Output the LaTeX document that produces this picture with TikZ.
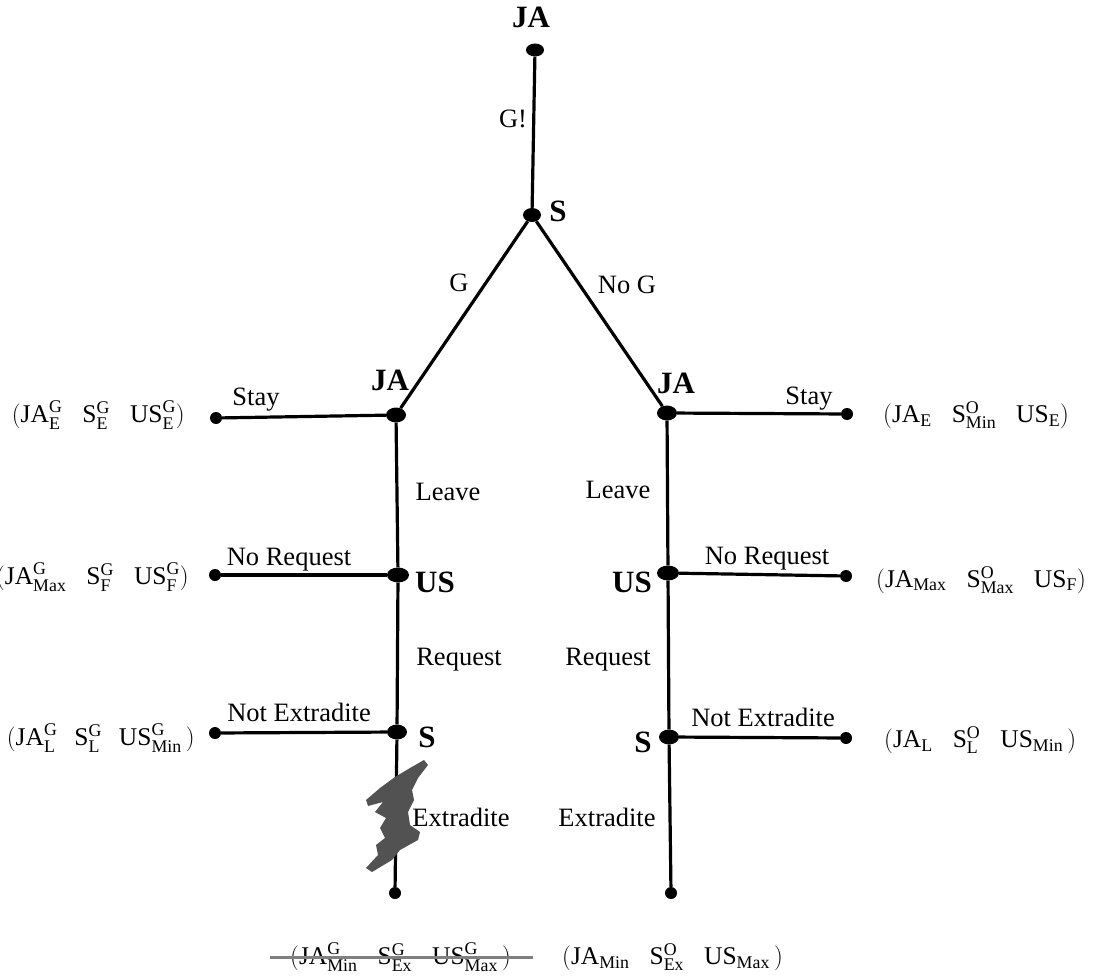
\documentclass[tikz,border=0pt]{standalone}
\usepackage{fontspec}
\setmainfont{Liberation Serif}
\usetikzlibrary{shapes.geometric}
\tikzset{
  big/.style={ellipse,fill=black,inner sep=0pt,minimum width=20pt,minimum height=15pt},
  leaf/.style={circle,fill=black,inner sep=0pt,minimum size=12pt},
  edge/.style={line width=3.2pt},
  lab/.style={font=\fontsize{26.5}{30}\selectfont,inner sep=0pt},
  player/.style={font=\fontsize{31}{34}\selectfont\bfseries,inner sep=0pt},
  pay/.style={font=\fontsize{25.5}{30}\selectfont,inner sep=0pt}
}
\newcommand{\rmx}[1]{\mathrm{#1}}
\newcommand{\gp}{\hspace{20pt}}
\begin{document}
\begin{tikzpicture}[x=1pt,y=-1pt]
\useasboundingbox (0,0) rectangle (1094,976);
% decision nodes
\node[big,minimum width=18pt,minimum height=13pt] (ja) at (535,50) {};
\node[big,minimum width=18pt,minimum height=14pt] (s) at (532,215) {};
\node[big] (jal) at (396,415) {};
\node[big] (jar) at (667,413) {};
\node[big,minimum width=22pt] (usl) at (398,575) {};
\node[big,minimum width=22pt] (usr) at (668,573) {};
\node[big] (sl) at (397,732) {};
\node[big] (sr) at (669,737) {};
% terminal nodes
\node[leaf] (stl) at (216,418) {};
\node[leaf] (str) at (847,414) {};
\node[leaf] (nrl) at (215,575) {};
\node[leaf] (nrr) at (846,576) {};
\node[leaf] (nel) at (215,733) {};
\node[leaf] (ner) at (846,738) {};
\node[leaf] (exl) at (395,893) {};
\node[leaf] (exr) at (671,893) {};
% edges
\draw[edge] (ja) -- (s);
\draw[edge] (s) -- (jal);
\draw[edge] (s) -- (jar);
\draw[edge] (jal) -- (stl);
\draw[edge] (jar) -- (str);
\draw[edge] (jal) -- (usl);
\draw[edge] (jar) -- (usr);
\draw[edge] (usl) -- (nrl);
\draw[edge] (usr) -- (nrr);
\draw[edge] (usl) -- (sl);
\draw[edge] (usr) -- (sr);
\draw[edge] (sl) -- (nel);
\draw[edge] (sr) -- (ner);
\draw[edge] (sl) -- (exl);
\draw[edge] (sr) -- (exr);
% player labels
\node[player] (tja) at (531,17) {JA};
\node[player] (ts) at (558,211) {S};
\node[player] (tjal) at (390,380) {JA};
\node[player] (tjar) at (676,383) {JA};
\node[player] (tusl) at (435,582) {US};
\node[player] (tusr) at (632,582) {US};
\node[player] (tsl) at (427,737) {S};
\node[player] (tsr) at (643,742) {S};
% action labels
\node[lab] (lg1) at (513,119) {G!};
\node[lab] (lg) at (459,283) {G};
\node[lab] (lng) at (627,285) {No G};
\node[lab] (lstl) at (256,400) {Stay};
\node[lab] (lstr) at (809,399) {Stay};
\node[lab] (llvl) at (448,492) {Leave};
\node[lab] (llvr) at (618,490) {Leave};
\node[lab] (lnrl) at (289,560) {No Request};
\node[lab] (lnrr) at (767,559) {No Request};
\node[lab] (lrql) at (459,660) {Request};
\node[lab] (lrqr) at (608,660) {Request};
\node[lab] (lnel) at (299,712) {Not Extradite};
\node[lab] (lner) at (763,717) {Not Extradite};
\node[lab] (lexl) at (461,817) {Extradite};
\node[lab] (lexr) at (607,817) {Extradite};
% payoffs
\node[pay,anchor=east] (pl1) at (185,415) {$(\rmx{JA}^{\rmx{G}}_{\rmx{E}}\gp\rmx{S}^{\rmx{G}}_{\rmx{E}}\gp\rmx{US}^{\rmx{G}}_{\rmx{E}})$};
\node[pay,anchor=east] (pl2) at (189,577) {$(\rmx{JA}^{\rmx{G}}_{\rmx{Max}}\gp\rmx{S}^{\rmx{G}}_{\rmx{F}}\gp\rmx{US}^{\rmx{G}}_{\rmx{F}})$};
\node[pay,anchor=east] (pl3) at (195,738) {$(\rmx{JA}^{\rmx{G}}_{\rmx{L}}\hspace{17pt}\rmx{S}^{\rmx{G}}_{\rmx{L}}\hspace{17pt}\rmx{US}^{\rmx{G}}_{\rmx{Min}}\,)$};
\node[pay,anchor=west] (pr1) at (883,415) {$(\rmx{JA}_{\rmx{E}}\gp\rmx{S}^{\rmx{O}}_{\rmx{Min}}\gp\rmx{US}_{\rmx{E}})$};
\node[pay,anchor=west] (pr2) at (876,580) {$(\rmx{JA}_{\rmx{Max}}\gp\rmx{S}^{\rmx{O}}_{\rmx{Max}}\gp\rmx{US}_{\rmx{F}})$};
\node[pay,anchor=west] (pr3) at (884,740) {$(\rmx{JA}_{\rmx{L}}\gp\rmx{S}^{\rmx{O}}_{\rmx{L}}\gp\rmx{US}_{\rmx{Min}}\,)$};
\node[pay,anchor=west] (pbl) at (290,957) {$(\rmx{JA}^{\rmx{G}}_{\rmx{Min}}\gp\rmx{S}^{\rmx{G}}_{\rmx{Ex}}\gp\rmx{US}^{\rmx{G}}_{\rmx{Max}}\,)$};
\node[pay,anchor=west] (pbr) at (562,957) {$(\rmx{JA}_{\rmx{Min}}\gp\rmx{S}^{\rmx{O}}_{\rmx{Ex}}\gp\rmx{US}_{\rmx{Max}}\,)$};
% strike-through
\draw[line width=3pt,color=black!50] (270,957) -- (533,957);
% scribble over left Extradite branch
\fill[black!68] (424,760) -- (428,765) -- (418,778) -- (412,790) -- (414,800) -- (408,812) -- (410,825) -- (420,832) -- (418,840) -- (400,850) -- (392,860) -- (372,872) -- (366,868) -- (378,855) -- (376,845) -- (385,838) -- (380,828) -- (386,818) -- (375,812) -- (383,802) -- (368,806) -- (366,800) -- (380,788) -- (395,777) -- (410,768) -- cycle;
\end{tikzpicture}
\end{document}
